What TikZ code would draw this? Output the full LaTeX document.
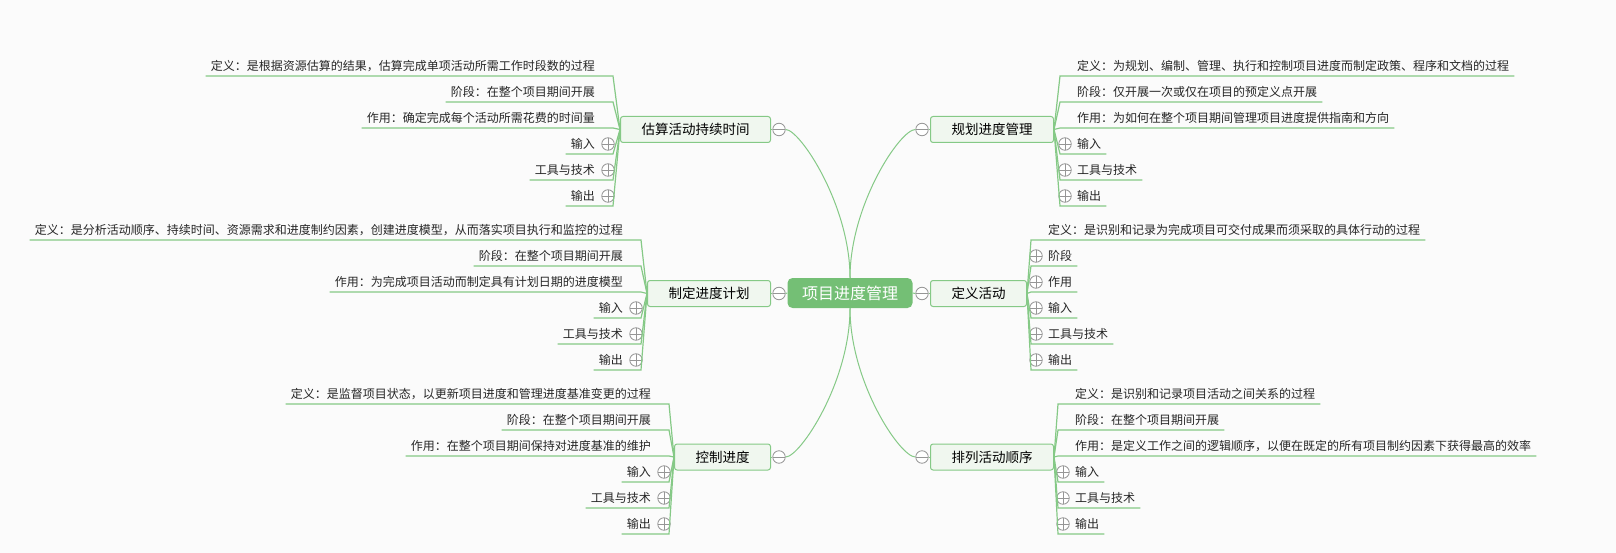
\documentclass[tikz,border=0pt]{standalone}
\usepackage{fontspec}
\setmainfont{Noto Sans CJK SC}
\definecolor{pmgreen}{RGB}{116,191,117}
\definecolor{pmline}{RGB}{133,201,134}
\definecolor{pmpale}{RGB}{240,247,239}
\definecolor{pmgray}{RGB}{150,150,150}
\definecolor{pmbg}{RGB}{251,251,251}

\begin{document}
\begin{tikzpicture}[x=1pt,y=-1pt,
  every node/.style={inner sep=0pt},
  pmedge/.style={pmline,line width=1pt},
  pmrule/.style={pmline,line width=1.2pt},
  pmroot/.style={fill=pmgreen,text=white,rounded corners=5pt,minimum width=125pt,
    minimum height=30pt,font=\fontsize{16}{19}\selectfont,text height=14.1pt,text depth=1.9pt},
  pmtopic/.style={draw=pmline,fill=pmpale,line width=1pt,rounded corners=2.5pt,
    inner xsep=21pt,minimum height=26pt,font=\fontsize{13.5}{16}\selectfont,
    text height=11.9pt,text depth=1.6pt},
  pmleaf/.style={inner ysep=4pt,font=\fontsize{12}{14}\selectfont,text=black!85,
    text height=10.6pt,text depth=1.4pt},
  pmminus/.style={circle,draw=pmgray,fill=white,line width=.8pt,minimum size=12.5pt,
    path picture={\draw[pmgray,line width=.8pt] (path picture bounding box.west) -- (path picture bounding box.east);}},
  pmplus/.style={circle,draw=pmgray,fill=white,line width=.8pt,minimum size=12.5pt,
    path picture={\draw[pmgray,line width=.8pt] (path picture bounding box.west) -- (path picture bounding box.east)
      (path picture bounding box.north) -- (path picture bounding box.south);}}]
\fill[pmbg] (0,0) rectangle (1616,553);
\useasboundingbox (0,0) rectangle (1616,553);

% centre and main topics
\node[pmroot] (root) at (850,293) {项目进度管理};
\node[pmtopic,anchor=east] (est) at (771,129.5) {估算活动持续时间};
\node[pmminus] (estc) at (779,129.5) {};
\node[pmtopic,anchor=west] (mgt) at (930,129.5) {规划进度管理};
\node[pmminus] (mgtc) at (922,129.5) {};
\node[pmtopic,anchor=east] (sch) at (771,293.5) {制定进度计划};
\node[pmminus] (schc) at (779,293.5) {};
\node[pmtopic,anchor=west] (def) at (930,293.5) {定义活动};
\node[pmminus] (defc) at (922,293.5) {};
\node[pmtopic,anchor=east] (ctl) at (771,457) {控制进度};
\node[pmminus] (ctlc) at (779,457) {};
\node[pmtopic,anchor=west] (seq) at (930,457) {排列活动顺序};
\node[pmminus] (seqc) at (922,457) {};

\draw[pmedge] (root.north) .. controls (850,205) and (800,129.5) .. (estc.east);
\draw[pmedge] (root.north) .. controls (850,205) and (900,129.5) .. (mgtc.west);
\draw[pmedge] (root.south) .. controls (850,382) and (800,457) .. (ctlc.east);
\draw[pmedge] (root.south) .. controls (850,382) and (900,457) .. (seqc.west);
\draw[pmedge] (root.west) -- (schc.east);
\draw[pmedge] (root.east) -- (defc.west);
\draw[pmedge] (estc.west) -- (est.east);
\draw[pmedge] (mgtc.east) -- (mgt.west);
\draw[pmedge] (schc.west) -- (sch.east);
\draw[pmedge] (defc.east) -- (def.west);
\draw[pmedge] (ctlc.west) -- (ctl.east);
\draw[pmedge] (seqc.east) -- (seq.west);

% 估算活动持续时间
\node[pmleaf,anchor=south east] (est1) at (595,76) {定义：是根据资源估算的结果，估算完成单项活动所需工作时段数的过程};
\node[pmleaf,anchor=south east] (est2) at (595,102) {阶段：在整个项目期间开展};
\node[pmleaf,anchor=south east] (est3) at (595,128) {作用：确定完成每个活动所需花费的时间量};
\node[pmleaf,anchor=south east] (est4) at (595,154) {输入};
\node[pmleaf,anchor=south east] (est5) at (595,180) {工具与技术};
\node[pmleaf,anchor=south east] (est6) at (595,206) {输出};
\node[pmplus] (est4p) at (608,144) {};
\node[pmplus] (est5p) at (608,170) {};
\node[pmplus] (est6p) at (608,196) {};
\draw[pmrule] (est.west) -- ([xshift=18pt]est1.south east) -- ([xshift=-5pt]est1.south west);
\draw[pmrule] (est.west) -- ([xshift=18pt]est2.south east) -- ([xshift=-5pt]est2.south west);
\draw[pmrule] (est.west) -- ([xshift=18pt]est3.south east) -- ([xshift=-5pt]est3.south west);
\draw[pmrule] (est.west) -- ([xshift=18pt]est4.south east) -- ([xshift=-5pt]est4.south west);
\draw[pmrule] (est.west) -- ([xshift=18pt]est5.south east) -- ([xshift=-5pt]est5.south west);
\draw[pmrule] (est.west) -- ([xshift=18pt]est6.south east) -- ([xshift=-5pt]est6.south west);

% 制定进度计划
\node[pmleaf,anchor=south east] (sch1) at (623,240) {定义：是分析活动顺序、持续时间、资源需求和进度制约因素，创建进度模型，从而落实项目执行和监控的过程};
\node[pmleaf,anchor=south east] (sch2) at (623,266) {阶段：在整个项目期间开展};
\node[pmleaf,anchor=south east] (sch3) at (623,292) {作用：为完成项目活动而制定具有计划日期的进度模型};
\node[pmleaf,anchor=south east] (sch4) at (623,318) {输入};
\node[pmleaf,anchor=south east] (sch5) at (623,344) {工具与技术};
\node[pmleaf,anchor=south east] (sch6) at (623,370) {输出};
\node[pmplus] (sch4p) at (636,308) {};
\node[pmplus] (sch5p) at (636,334) {};
\node[pmplus] (sch6p) at (636,360) {};
\draw[pmrule] (sch.west) -- ([xshift=18pt]sch1.south east) -- ([xshift=-5pt]sch1.south west);
\draw[pmrule] (sch.west) -- ([xshift=18pt]sch2.south east) -- ([xshift=-5pt]sch2.south west);
\draw[pmrule] (sch.west) -- ([xshift=18pt]sch3.south east) -- ([xshift=-5pt]sch3.south west);
\draw[pmrule] (sch.west) -- ([xshift=18pt]sch4.south east) -- ([xshift=-5pt]sch4.south west);
\draw[pmrule] (sch.west) -- ([xshift=18pt]sch5.south east) -- ([xshift=-5pt]sch5.south west);
\draw[pmrule] (sch.west) -- ([xshift=18pt]sch6.south east) -- ([xshift=-5pt]sch6.south west);

% 控制进度
\node[pmleaf,anchor=south east] (ctl1) at (651,404) {定义：是监督项目状态，以更新项目进度和管理进度基准变更的过程};
\node[pmleaf,anchor=south east] (ctl2) at (651,430) {阶段：在整个项目期间开展};
\node[pmleaf,anchor=south east] (ctl3) at (651,456) {作用：在整个项目期间保持对进度基准的维护};
\node[pmleaf,anchor=south east] (ctl4) at (651,482) {输入};
\node[pmleaf,anchor=south east] (ctl5) at (651,508) {工具与技术};
\node[pmleaf,anchor=south east] (ctl6) at (651,534) {输出};
\node[pmplus] (ctl4p) at (664,472) {};
\node[pmplus] (ctl5p) at (664,498) {};
\node[pmplus] (ctl6p) at (664,524) {};
\draw[pmrule] (ctl.west) -- ([xshift=18pt]ctl1.south east) -- ([xshift=-5pt]ctl1.south west);
\draw[pmrule] (ctl.west) -- ([xshift=18pt]ctl2.south east) -- ([xshift=-5pt]ctl2.south west);
\draw[pmrule] (ctl.west) -- ([xshift=18pt]ctl3.south east) -- ([xshift=-5pt]ctl3.south west);
\draw[pmrule] (ctl.west) -- ([xshift=18pt]ctl4.south east) -- ([xshift=-5pt]ctl4.south west);
\draw[pmrule] (ctl.west) -- ([xshift=18pt]ctl5.south east) -- ([xshift=-5pt]ctl5.south west);
\draw[pmrule] (ctl.west) -- ([xshift=18pt]ctl6.south east) -- ([xshift=-5pt]ctl6.south west);

% 规划进度管理
\node[pmleaf,anchor=south west] (mgt1) at (1077,76) {定义：为规划、编制、管理、执行和控制项目进度而制定政策、程序和文档的过程};
\node[pmleaf,anchor=south west] (mgt2) at (1077,102) {阶段：仅开展一次或仅在项目的预定义点开展};
\node[pmleaf,anchor=south west] (mgt3) at (1077,128) {作用：为如何在整个项目期间管理项目进度提供指南和方向};
\node[pmleaf,anchor=south west] (mgt4) at (1077,154) {输入};
\node[pmleaf,anchor=south west] (mgt5) at (1077,180) {工具与技术};
\node[pmleaf,anchor=south west] (mgt6) at (1077,206) {输出};
\node[pmplus] (mgt4p) at (1065,144) {};
\node[pmplus] (mgt5p) at (1065,170) {};
\node[pmplus] (mgt6p) at (1065,196) {};
\draw[pmrule] (mgt.east) -- ([xshift=-17pt]mgt1.south west) -- ([xshift=5pt]mgt1.south east);
\draw[pmrule] (mgt.east) -- ([xshift=-17pt]mgt2.south west) -- ([xshift=5pt]mgt2.south east);
\draw[pmrule] (mgt.east) -- ([xshift=-17pt]mgt3.south west) -- ([xshift=5pt]mgt3.south east);
\draw[pmrule] (mgt.east) -- ([xshift=-17pt]mgt4.south west) -- ([xshift=5pt]mgt4.south east);
\draw[pmrule] (mgt.east) -- ([xshift=-17pt]mgt5.south west) -- ([xshift=5pt]mgt5.south east);
\draw[pmrule] (mgt.east) -- ([xshift=-17pt]mgt6.south west) -- ([xshift=5pt]mgt6.south east);

% 定义活动
\node[pmleaf,anchor=south west] (def1) at (1048,240) {定义：是识别和记录为完成项目可交付成果而须采取的具体行动的过程};
\node[pmleaf,anchor=south west] (def2) at (1048,266) {阶段};
\node[pmleaf,anchor=south west] (def3) at (1048,292) {作用};
\node[pmleaf,anchor=south west] (def4) at (1048,318) {输入};
\node[pmleaf,anchor=south west] (def5) at (1048,344) {工具与技术};
\node[pmleaf,anchor=south west] (def6) at (1048,370) {输出};
\node[pmplus] (def2p) at (1036,256) {};
\node[pmplus] (def3p) at (1036,282) {};
\node[pmplus] (def4p) at (1036,308) {};
\node[pmplus] (def5p) at (1036,334) {};
\node[pmplus] (def6p) at (1036,360) {};
\draw[pmrule] (def.east) -- ([xshift=-17pt]def1.south west) -- ([xshift=5pt]def1.south east);
\draw[pmrule] (def.east) -- ([xshift=-17pt]def2.south west) -- ([xshift=5pt]def2.south east);
\draw[pmrule] (def.east) -- ([xshift=-17pt]def3.south west) -- ([xshift=5pt]def3.south east);
\draw[pmrule] (def.east) -- ([xshift=-17pt]def4.south west) -- ([xshift=5pt]def4.south east);
\draw[pmrule] (def.east) -- ([xshift=-17pt]def5.south west) -- ([xshift=5pt]def5.south east);
\draw[pmrule] (def.east) -- ([xshift=-17pt]def6.south west) -- ([xshift=5pt]def6.south east);

% 排列活动顺序
\node[pmleaf,anchor=south west] (seq1) at (1075,404) {定义：是识别和记录项目活动之间关系的过程};
\node[pmleaf,anchor=south west] (seq2) at (1075,430) {阶段：在整个项目期间开展};
\node[pmleaf,anchor=south west] (seq3) at (1075,456) {作用：是定义工作之间的逻辑顺序，以便在既定的所有项目制约因素下获得最高的效率};
\node[pmleaf,anchor=south west] (seq4) at (1075,482) {输入};
\node[pmleaf,anchor=south west] (seq5) at (1075,508) {工具与技术};
\node[pmleaf,anchor=south west] (seq6) at (1075,534) {输出};
\node[pmplus] (seq4p) at (1063,472) {};
\node[pmplus] (seq5p) at (1063,498) {};
\node[pmplus] (seq6p) at (1063,524) {};
\draw[pmrule] (seq.east) -- ([xshift=-17pt]seq1.south west) -- ([xshift=5pt]seq1.south east);
\draw[pmrule] (seq.east) -- ([xshift=-17pt]seq2.south west) -- ([xshift=5pt]seq2.south east);
\draw[pmrule] (seq.east) -- ([xshift=-17pt]seq3.south west) -- ([xshift=5pt]seq3.south east);
\draw[pmrule] (seq.east) -- ([xshift=-17pt]seq4.south west) -- ([xshift=5pt]seq4.south east);
\draw[pmrule] (seq.east) -- ([xshift=-17pt]seq5.south west) -- ([xshift=5pt]seq5.south east);
\draw[pmrule] (seq.east) -- ([xshift=-17pt]seq6.south west) -- ([xshift=5pt]seq6.south east);
\end{tikzpicture}
\end{document}
